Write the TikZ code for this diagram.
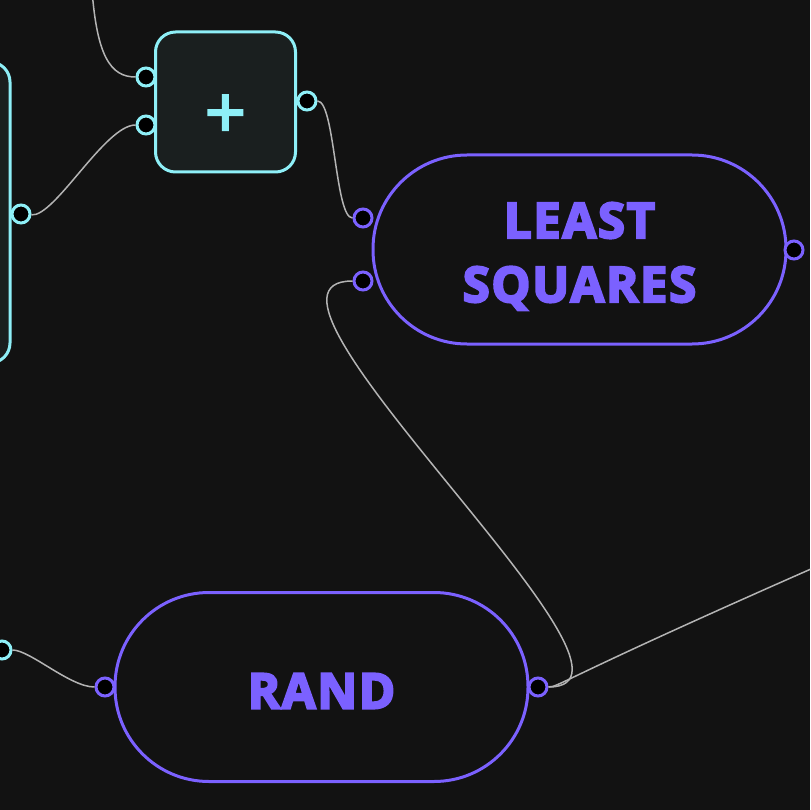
\documentclass[tikz,border=0pt]{standalone}
\usepackage{fontspec}
\setmainfont{Open Sans}
\newfontfamily\boxfont[LetterSpace=3.5,FakeBold=4.5]{Open Sans}
\newfontfamily\opfont[FakeBold=3]{Open Sans}
\definecolor{bgdark}{HTML}{121212}
\definecolor{opfill}{HTML}{1A1F1F}
\definecolor{opcyan}{HTML}{8EEFF7}
\definecolor{fnviolet}{HTML}{7B61FF}
\definecolor{wiregray}{HTML}{B4B4B4}

\begin{document}
\begin{tikzpicture}[x=1pt,y=-1pt,
  opbox/.style={draw=opcyan, line width=3pt, fill=opfill, rounded corners=20pt},
  fnbox/.style={draw=fnviolet, line width=3pt, fill=bgdark, rounded corners=94pt,
    minimum width=413pt, minimum height=189pt, text=fnviolet, align=center,
    font=\boxfont\bfseries\fontsize{49}{64}\selectfont},
  portc/.style={circle, draw=opcyan, line width=3pt, fill=black, minimum size=18pt, inner sep=0pt},
  portv/.style={portc, draw=fnviolet},
  wire/.style={draw=wiregray, line width=1.5pt}]
\useasboundingbox (0,0) rectangle (810,810);
\fill[bgdark] (0,0) rectangle (810,810);
\clip (0,0) rectangle (810,810);

% operator boxes
\node[opbox, minimum width=200pt, minimum height=301pt] (matbox) at (-90,212.5) {};
\node[opbox, minimum width=140pt, minimum height=140pt, text=opcyan,
  font=\opfont\fontsize{72}{72}\selectfont, text height=72pt, text depth=0pt] (plus) at (225.5,102) {+};

% function boxes
\node[fnbox, text height=105pt, text depth=0pt] (lsq) at (579.5,249.5) {LEAST\\SQUARES};
\node[fnbox, text height=43pt, text depth=0pt] (rand) at (321.5,687) {RAND};

% ports
\node[portc] (matout) at (21,214) {};
\node[portc] (plusinA) at (146,77) {};
\node[portc] (plusinB) at (146,125) {};
\node[portc] (plusout) at (307,101) {};
\node[portc] (offport) at (2,650) {};
\node[portv] (lsqinA) at (363,218) {};
\node[portv] (lsqinB) at (363,281) {};
\node[portv] (lsqout) at (794,250) {};
\node[portv] (randin) at (105,687) {};
\node[portv] (randout) at (538,687) {};

% loose ends
\coordinate (topsrc) at (92,-10);
\coordinate (rightsnk) at (900,530);

% wires
\draw[wire] (plusinA) .. controls (110,77) and (97,55) .. (topsrc);
\draw[wire] (matout) .. controls (55,217) and (105,125) .. (plusinB);
\draw[wire] (plusout) .. controls (335,101) and (335,218) .. (lsqinA);
\draw[wire] (randout) .. controls (680,687) and (215,281) .. (lsqinB);
\draw[wire] (randout) .. controls (560,687) and (560,678) .. (rightsnk);
\draw[wire] (offport) .. controls (30,650) and (70,687) .. (randin);
\end{tikzpicture}
\end{document}
